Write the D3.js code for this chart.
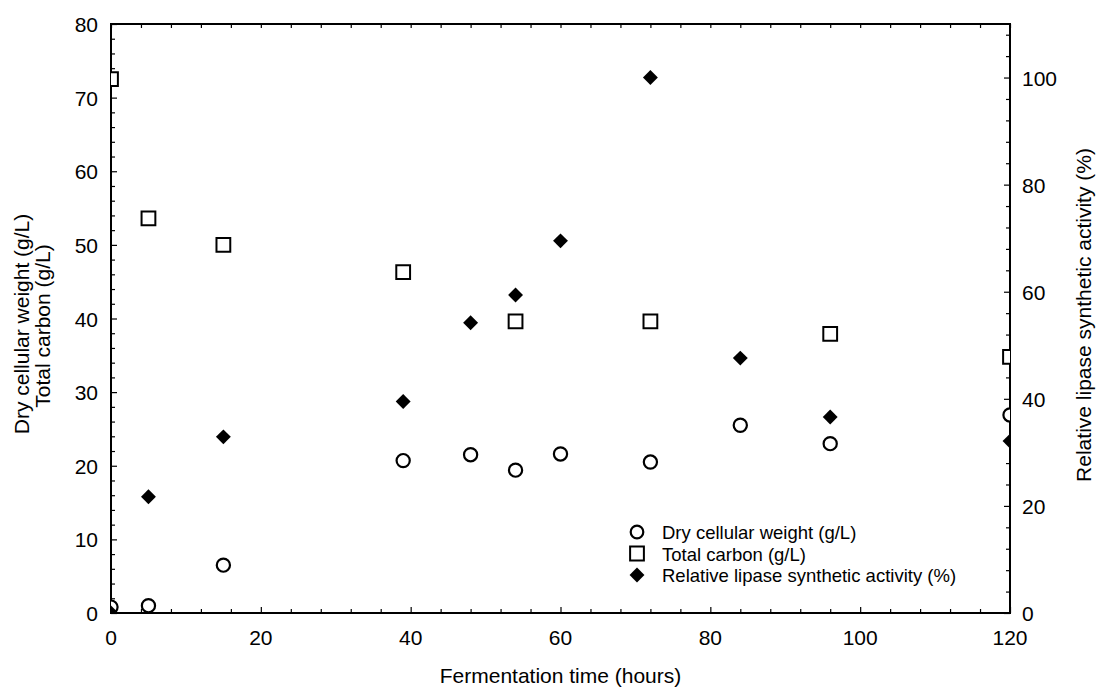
<!DOCTYPE html>
<html lang="en">
<head>
    <meta charset="UTF-8">
    <title>Fermentation time course</title>
    <script src="https://d3js.org/d3.v7.js"></script>
    <style>
        body { margin: 0; background: #fff; }
        text { font-family: "Liberation Sans", Arial, sans-serif; fill: #000; }
    </style>
</head>
<body>
    <svg></svg>
    <script>
        // data
        const hours = [0, 5, 15, 39, 48, 54, 60, 72, 84, 96, 120];
        const dryWeight = [0.8, 1.0, 6.5, 20.7, 21.5, 19.4, 21.6, 20.5, 25.5, 23.0, 26.9];
        const carbonHours = [0, 5, 15, 39, 54, 72, 96, 120];
        const totalCarbon = [72.5, 53.6, 50.0, 46.3, 39.6, 39.6, 37.9, 34.8];
        const lipaseHours = [0, 5, 15, 39, 48, 54, 60, 72, 84, 96, 120];
        const lipase = [0, 21.7, 32.9, 39.5, 54.2, 59.4, 69.5, 100, 47.6, 36.6, 32.1];

        const xTicks = [0, 20, 40, 60, 80, 100, 120];
        const yLeftTicks = [0, 10, 20, 30, 40, 50, 60, 70, 80];
        const yRightTicks = [0, 20, 40, 60, 80, 100];
        const legendLabels = ["Dry cellular weight (g/L)", "Total carbon (g/L)", "Relative lipase synthetic activity (%)"];

        const width = 1096, height = 687;
        const m = { left: 111, right: 86, top: 24, bottom: 74 };
        const x0 = m.left, x1 = width - m.right, y0 = height - m.bottom, y1 = m.top;

        const svg = d3.select("svg").attr("width", width).attr("height", height);

        const x = d3.scaleLinear().domain([0, 120]).range([x0, x1]);
        const yL = d3.scaleLinear().domain([0, 80]).range([y0, y1]);
        const yR = d3.scaleLinear().domain([0, 110]).range([y0, y1]);

        svg.append("clipPath").attr("id", "plot")
            .append("rect").attr("x", x0).attr("y", y1).attr("width", x1 - x0).attr("height", y0 - y1);

        // inward ticks on all four sides
        const xMinor = d3.range(0, 121, 4);
        const yLMinor = d3.range(0, 81, 2);
        const yRMinor = d3.range(0, 109, 4);

        const gb = svg.append("g").attr("transform", `translate(0,${y0})`)
            .call(d3.axisTop(x).tickValues(xMinor).tickSize(4).tickFormat(""));
        svg.append("g").attr("transform", `translate(0,${y1})`)
            .call(d3.axisBottom(x).tickValues(xMinor).tickSize(4).tickFormat(""));
        const gl = svg.append("g").attr("transform", `translate(${x0},0)`)
            .call(d3.axisRight(yL).tickValues(yLMinor).tickSize(4).tickFormat(""));
        const gr = svg.append("g").attr("transform", `translate(${x1},0)`)
            .call(d3.axisLeft(yR).tickValues(yRMinor).tickSize(4).tickFormat(""));

        gb.selectAll(".tick line").filter(d => xTicks.includes(d)).attr("y2", -6);
        gl.selectAll(".tick line").filter(d => yLeftTicks.includes(d)).attr("x2", 6);
        gr.selectAll(".tick line").filter(d => yRightTicks.includes(d)).attr("x2", -6);

        svg.selectAll(".domain").remove();
        svg.selectAll(".tick line").attr("stroke", "#000").attr("stroke-width", 1.2);

        svg.append("rect")
            .attr("x", x0).attr("y", y1).attr("width", x1 - x0).attr("height", y0 - y1)
            .attr("fill", "none").attr("stroke", "#000").attr("stroke-width", 2);

        // tick labels
        svg.append("g").selectAll("text").data(xTicks).join("text")
            .attr("x", d => x(d)).attr("y", y0 + 32)
            .attr("text-anchor", "middle").attr("font-size", 21).text(d => d);
        svg.append("g").selectAll("text").data(yLeftTicks).join("text")
            .attr("x", x0 - 13).attr("y", d => yL(d) + 8)
            .attr("text-anchor", "end").attr("font-size", 21).text(d => d);
        svg.append("g").selectAll("text").data(yRightTicks).join("text")
            .attr("x", x1 + 12).attr("y", d => yR(d) + 8)
            .attr("text-anchor", "start").attr("font-size", 21).text(d => d);

        // axis titles
        svg.append("text").attr("x", (x0 + x1) / 2).attr("y", 683)
            .attr("text-anchor", "middle").attr("font-size", 21).text("Fermentation time (hours)");
        svg.append("text").attr("transform", "translate(29,324) rotate(-90)")
            .attr("text-anchor", "middle").attr("font-size", 21).text("Dry cellular weight (g/L)");
        svg.append("text").attr("transform", "translate(50,326) rotate(-90)")
            .attr("text-anchor", "middle").attr("font-size", 21).text("Total carbon (g/L)");
        svg.append("text").attr("transform", "translate(1091,315) rotate(-90)")
            .attr("text-anchor", "middle").attr("font-size", 21).text("Relative lipase synthetic activity (%)");

        // markers
        const plot = svg.append("g").attr("clip-path", "url(#plot)");
        const sq = d3.symbol().type(d3.symbolSquare).size(190);
        const dia = d3.symbol().type(d3.symbolDiamond).size(64);

        plot.selectAll(".tc").data(carbonHours.map((h, i) => [h, totalCarbon[i]])).join("path")
            .attr("class", "tc").attr("d", sq)
            .attr("transform", d => `translate(${x(d[0])},${yL(d[1])})`)
            .attr("fill", "#fff").attr("stroke", "#000").attr("stroke-width", 2);

        plot.selectAll(".dw").data(hours.map((h, i) => [h, dryWeight[i]])).join("circle")
            .attr("class", "dw").attr("cx", d => x(d[0])).attr("cy", d => yL(d[1])).attr("r", 6.6)
            .attr("fill", "#fff").attr("stroke", "#000").attr("stroke-width", 2.2);

        plot.selectAll(".la").data(lipaseHours.map((h, i) => [h, lipase[i]])).join("path")
            .attr("class", "la").attr("d", dia)
            .attr("transform", d => `translate(${x(d[0])},${yR(d[1])}) scale(1.732,1)`)
            .attr("fill", "#000");

        // legend
        const lg = svg.append("g").attr("transform", "translate(637,532)");
        const rows = lg.selectAll("g").data(legendLabels).join("g")
            .attr("transform", (d, i) => `translate(0,${i * 21.5})`);
        rows.filter((d, i) => i === 0).append("circle").attr("r", 6.3)
            .attr("fill", "#fff").attr("stroke", "#000").attr("stroke-width", 2.2);
        rows.filter((d, i) => i === 1).append("path").attr("d", sq)
            .attr("fill", "#fff").attr("stroke", "#000").attr("stroke-width", 2);
        rows.filter((d, i) => i === 2).append("path").attr("d", dia)
            .attr("transform", "scale(1.732,1)").attr("fill", "#000");
        rows.append("text").attr("x", 25).attr("y", 7).attr("font-size", 18.5).text(d => d);
    </script>
</body>
</html>
